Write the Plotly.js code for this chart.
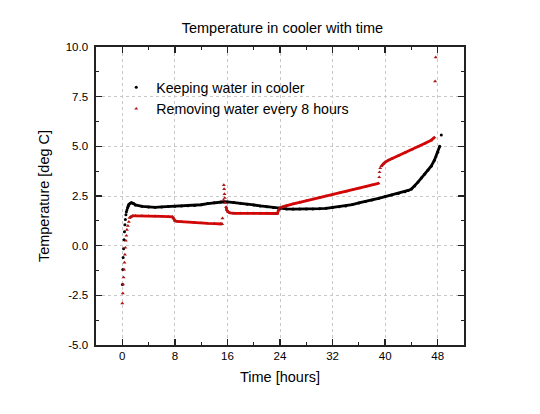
<!DOCTYPE html>
<html>
<head>
<meta charset="utf-8">
<script src="https://cdn.plot.ly/plotly-3.0.1.min.js"></script>
<style>html,body{margin:0;padding:0;background:#fff;}#chart{width:540px;height:414px;}</style>
</head>
<body>
<div id="chart"></div>
<script>
// Keeping water in cooler: continuous part (hours, deg C)
var blackT = [0.8, 0.9, 1.0, 1.2, 1.4, 1.7, 2, 3, 4, 5, 6, 7, 8, 9, 10, 11, 12, 13, 14, 15, 15.5, 16, 17, 18, 19, 20, 21, 22, 23, 24, 25, 26, 27, 28, 29, 30, 31, 32, 33, 34, 35, 36, 37, 38, 39, 40, 41, 42, 43, 43.5, 44, 44.5, 45, 45.5, 46, 46.5, 47, 47.5, 48, 48.3];
var blackV = [1.9, 2.0, 2.07, 2.13, 2.16, 2.12, 2.05, 1.98, 1.95, 1.93, 1.95, 1.97, 1.98, 2.0, 2.01, 2.02, 2.06, 2.12, 2.16, 2.2, 2.21, 2.2, 2.17, 2.13, 2.08, 2.05, 2.0, 1.96, 1.92, 1.88, 1.85, 1.84, 1.84, 1.84, 1.85, 1.86, 1.88, 1.92, 1.96, 2.0, 2.07, 2.15, 2.22, 2.3, 2.38, 2.47, 2.55, 2.63, 2.72, 2.78, 2.85, 3.0, 3.2, 3.4, 3.6, 3.8, 4.0, 4.3, 4.7, 5.0];
// Keeping water in cooler: isolated points (initial rise, last reading)
var blackSparseT = [0.02, 0.08, 0.13, 0.2, 0.27, 0.33, 0.4, 0.47, 0.55, 0.62, 0.7, 48.55];
var blackSparseV = [-1.95, -1.2, -0.6, -0.15, 0.3, 0.7, 1.05, 1.32, 1.55, 1.7, 1.8, 5.57];

// Removing water every 8 hours: continuous parts (null = gap)
var redT = [1.1, 1.3, 1.6, 2, 3, 4, 5, 6, 7, 7.6, 7.8, 8.0, 8.3, 9, 10, 11, 12, 13, 14, 15, 15.2, null,
            15.8, 15.9, 16.1, 16.4, 17, 18, 19, 20, 21, 22, 23, 23.6, 23.8, 24, 24.5, 25, 26, 27, 28, 29, 30, 31, 32, 33, 34, 35, 36, 37, 38, 39, null,
            39.4, 39.7, 40, 40.5, 41, 42, 43, 44, 45, 46, 47, 47.5];
var redV = [1.4, 1.46, 1.5, 1.5, 1.5, 1.49, 1.48, 1.47, 1.46, 1.45, 1.38, 1.26, 1.22, 1.2, 1.18, 1.16, 1.14, 1.12, 1.11, 1.1, 1.09, null,
            1.95, 1.8, 1.7, 1.65, 1.63, 1.63, 1.63, 1.63, 1.63, 1.63, 1.62, 1.62, 1.8, 1.9, 1.97, 2.02, 2.1, 2.18, 2.26, 2.34, 2.42, 2.5, 2.58, 2.65, 2.72, 2.8, 2.88, 2.97, 3.05, 3.14, null,
            4.0, 4.12, 4.2, 4.3, 4.38, 4.53, 4.68, 4.83, 4.98, 5.14, 5.3, 5.45];
// Removing water every 8 hours: isolated points (rise, spikes, jump)
var redSparseT = [0.0, 0.08, 0.13, 0.2, 0.27, 0.33, 0.4, 0.47, 0.55, 0.62, 0.7, 0.85, 1.0,
                  15.25, 15.4, 15.45, 15.5, 15.55, 15.6, 15.65,
                  39.1, 39.15, 39.25, 47.6, 47.7];
var redSparseV = [-2.9, -2.4, -1.95, -1.6, -1.2, -0.85, -0.45, -0.1, 0.25, 0.5, 0.8, 1.0, 1.2,
                  1.38, 2.3, 3.05, 2.85, 2.6, 2.4, 2.15,
                  3.45, 3.7, 3.9, 8.27, 9.48];

var xTicks = [0, 8, 16, 24, 32, 40, 48];
var xTickLabels = ['0', '8', '16', '24', '32', '40', '48'];
var yTicks = [-5, -2.5, 0, 2.5, 5, 7.5, 10];
var yTickLabels = ['-5.0', '-2.5', '0.0', '2.5', '5.0', '7.5', '10.0'];

var seriesNames = ['Keeping water in cooler', 'Removing water every 8 hours'];

var BLACK = '#000000', RED = '#e00000', DARKRED = '#b01515';
var FONT = 'Liberation Sans, Arial, sans-serif';

var traces = [
  {x: blackT, y: blackV, mode: 'lines', line: {color: BLACK, width: 2.8}, showlegend: false, hoverinfo: 'skip', connectgaps: false},
  {x: redT, y: redV, mode: 'lines', line: {color: RED, width: 2.8}, showlegend: false, hoverinfo: 'skip', connectgaps: false},
  {x: blackT.concat(blackSparseT), y: blackV.concat(blackSparseV), mode: 'markers', name: seriesNames[0],
   marker: {symbol: 'circle', size: 3, color: BLACK}},
  {x: redT.concat(redSparseT), y: redV.concat(redSparseV), mode: 'markers', name: seriesNames[1],
   marker: {symbol: 'triangle-up', size: 3.5, color: DARKRED}}
];

var axisCommon = {
  showline: true, linecolor: '#222', linewidth: 1.6, mirror: 'allticks',
  ticks: 'inside', ticklen: 6, tickwidth: 1.3, tickcolor: '#222',
  showgrid: true, gridcolor: '#c8c8c8', griddash: 'dot', gridwidth: 1,
  zeroline: false, tickfont: {family: FONT, size: 11.5, color: '#000'}
};

var layout = {
  width: 540, height: 414,
  margin: {l: 96, r: 76, t: 47, b: 69},
  paper_bgcolor: '#fff', plot_bgcolor: '#fff',
  font: {family: FONT, color: '#000'},
  title: {text: 'Temperature in cooler with time', font: {family: FONT, size: 14.5, color: '#000'},
          x: 0.523, xanchor: 'center', y: 0.932, yanchor: 'middle', xref: 'container', yref: 'container'},
  xaxis: Object.assign({}, axisCommon, {
    range: [-4, 52], tickvals: xTicks, ticktext: xTickLabels,
    minor: {dtick: 4, tick0: 0, ticks: 'inside', ticklen: 3, tickwidth: 1.2, tickcolor: '#222', showgrid: false},
    title: {text: 'Time [hours]', font: {family: FONT, size: 14.5, color: '#000'}, standoff: 10}
  }),
  yaxis: Object.assign({}, axisCommon, {
    range: [-5, 10], tickvals: yTicks, ticktext: yTickLabels, ticklabelstandoff: 4,
    minor: {dtick: 1.25, tick0: 0, ticks: 'inside', ticklen: 3, tickwidth: 1.2, tickcolor: '#222', showgrid: false},
    title: {text: 'Temperature [deg C]', font: {family: FONT, size: 14.5, color: '#000'}, standoff: 12}
  }),
  legend: {x: 0.055, xanchor: 'left', y: 0.918, yanchor: 'top', bgcolor: 'rgba(255,255,255,0)',
           font: {family: FONT, size: 14.2, color: '#000'}, itemsizing: 'trace', tracegroupgap: 0},
  showlegend: true
};

Plotly.newPlot('chart', traces, layout, {staticPlot: true, displayModeBar: false});
</script>
</body>
</html>
